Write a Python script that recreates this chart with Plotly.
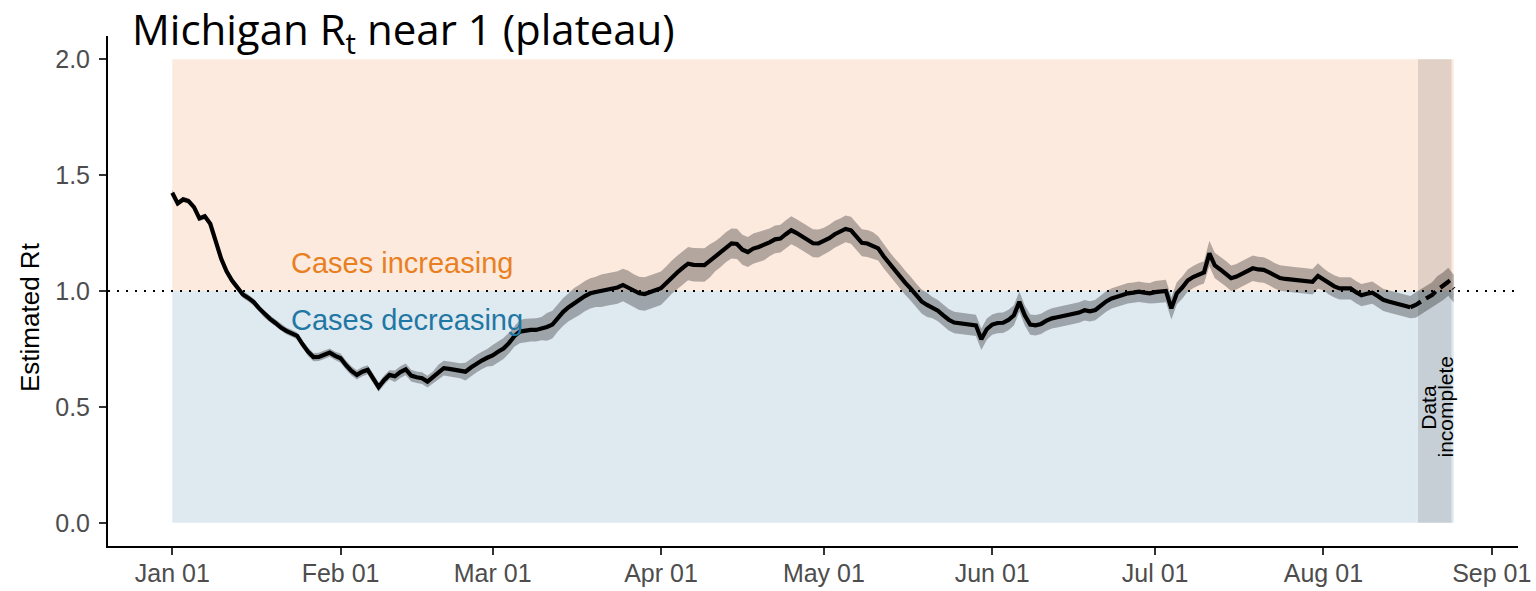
import pandas as pd
import plotly.graph_objects as go

# daily Rt estimate for Michigan, 2021-01-01 .. 2021-08-25
dates = pd.date_range("2021-01-01", "2021-08-25", freq="D")

rt = [
    # Jan
    1.424, 1.378, 1.395, 1.388, 1.362, 1.313, 1.322, 1.290, 1.215, 1.140,
    1.085, 1.045, 1.015, 0.985, 0.970, 0.952, 0.925, 0.900, 0.880, 0.862,
    0.842, 0.828, 0.818, 0.806, 0.770, 0.738, 0.715, 0.716, 0.725, 0.734,
    0.720,
    # Feb
    0.710, 0.680, 0.655, 0.638, 0.652, 0.660, 0.620, 0.585, 0.615, 0.638,
    0.632, 0.650, 0.662, 0.635, 0.628, 0.624, 0.609, 0.628, 0.650, 0.667,
    0.664, 0.660, 0.656, 0.652, 0.670, 0.686, 0.700, 0.712,
    # Mar
    0.722, 0.738, 0.752, 0.775, 0.805, 0.825, 0.830, 0.832, 0.832, 0.838,
    0.845, 0.855, 0.885, 0.910, 0.930, 0.948, 0.962, 0.978, 0.990, 0.996,
    1.001, 1.006, 1.011, 1.015, 1.026, 1.015, 1.000, 0.990, 0.987, 0.995,
    1.003,
    # Apr
    1.012, 1.035, 1.060, 1.080, 1.100, 1.118, 1.113, 1.112, 1.112, 1.130,
    1.150, 1.168, 1.190, 1.205, 1.203, 1.178, 1.168, 1.183, 1.190, 1.198,
    1.210, 1.223, 1.226, 1.245, 1.262, 1.250, 1.235, 1.220, 1.206, 1.205,
    # May
    1.215, 1.228, 1.245, 1.255, 1.268, 1.262, 1.235, 1.208, 1.205, 1.196,
    1.184, 1.150, 1.120, 1.090, 1.065, 1.035, 1.010, 0.980, 0.955, 0.940,
    0.928, 0.915, 0.895, 0.876, 0.864, 0.861, 0.861, 0.858, 0.852, 0.792,
    0.835,
    # Jun
    0.855, 0.862, 0.863, 0.875, 0.895, 0.954, 0.895, 0.855, 0.852, 0.858,
    0.872, 0.882, 0.887, 0.892, 0.897, 0.902, 0.907, 0.917, 0.912, 0.918,
    0.937, 0.955, 0.968, 0.976, 0.983, 0.990, 0.993, 0.997, 0.993, 0.990,
    # Jul
    0.995, 0.998, 1.000, 0.925, 0.990, 1.015, 1.045, 1.060, 1.072, 1.080,
    1.162, 1.110, 1.093, 1.075, 1.055, 1.062, 1.074, 1.085, 1.098, 1.093,
    1.091, 1.080, 1.066, 1.056, 1.052, 1.049, 1.047, 1.045, 1.043, 1.040,
    1.065,
    # Aug
    1.050, 1.033, 1.020, 1.011, 1.011, 1.011, 0.995, 0.982, 0.988, 0.993,
    0.978, 0.962, 0.955, 0.948, 0.944, 0.937, 0.930, 0.940, 0.955, 0.970,
    0.983, 1.005, 1.020, 1.040, 1.010,
]

# half width of the credible band, in thousandths
band = [
    12, 12, 12, 12, 12, 12, 12, 12, 12, 12, 15, 15, 15, 15, 15, 15,
    15, 15, 15, 15, 15, 15, 15, 15, 15, 18, 18, 18, 18, 18, 18,
    20, 20, 20, 20, 20, 20, 20, 20, 20, 20, 25, 25, 25, 25, 25, 25,
    25, 25, 32, 32, 32, 32, 32, 38, 38, 38, 38, 38,
    45, 45, 45, 45, 45, 50, 50, 50, 50, 50, 60, 60, 60, 60, 60, 65,
    65, 65, 65, 65, 70, 70, 70, 70, 70, 72, 72, 72, 72, 72, 72,
    72, 72, 72, 72, 72, 72, 72, 72, 72, 72, 65, 65, 65, 65, 65, 65,
    65, 65, 65, 65, 60, 60, 60, 60, 60, 60, 60, 60, 60, 60,
    58, 58, 58, 58, 58, 58, 58, 58, 58, 58, 52, 52, 52, 52, 52, 52,
    52, 52, 52, 52, 46, 46, 46, 46, 46, 46, 46, 46, 46, 46, 46,
    44, 44, 44, 44, 44, 44, 44, 44, 44, 44, 44, 44, 44, 44, 44, 44,
    44, 44, 44, 44, 44, 44, 44, 44, 44, 44, 44, 44, 44, 44,
    48, 48, 48, 48, 48, 48, 48, 48, 48, 48, 55, 55, 55, 55, 55, 55,
    55, 55, 55, 55, 55, 55, 55, 55, 55, 55, 55, 55, 55, 55, 55,
    48, 48, 48, 48, 48, 48, 48, 48, 48, 48, 48, 48, 48, 48, 48, 48,
    48, 55, 55, 55, 55, 60, 60, 60, 60,
]

incomplete_from = "2021-08-17"
incomplete_band = ["2021-08-18 10:00", "2021-08-24 14:00"]
bg_span = ["2021-01-01", "2021-08-25"]

lo = [r - b / 1000 for r, b in zip(rt, band)]
hi = [r + b / 1000 for r, b in zip(rt, band)]
cut = list(dates).index(pd.Timestamp(incomplete_from))

SANS = "Liberation Sans, Arial, sans-serif"

fig = go.Figure()

# ribbon
fig.add_trace(go.Scatter(x=dates, y=hi, mode="lines", line=dict(width=0),
                         hoverinfo="skip", showlegend=False))
fig.add_trace(go.Scatter(x=dates, y=lo, mode="lines", line=dict(width=0),
                         fill="tonexty", fillcolor="rgba(0,0,0,0.29)",
                         hoverinfo="skip", showlegend=False))
# solid part
fig.add_trace(go.Scatter(x=dates[:cut + 1], y=rt[:cut + 1], mode="lines",
                         line=dict(color="black", width=4.2), showlegend=False))
# incomplete part (dashed)
fig.add_trace(go.Scatter(x=dates[cut:], y=rt[cut:], mode="lines",
                         line=dict(color="black", width=4.2, dash="12px,6px"),
                         showlegend=False))

# shaded regions
fig.add_shape(type="rect", xref="x", yref="y", x0=bg_span[0], x1=bg_span[1],
              y0=1, y1=2, fillcolor="#FDEADF", line_width=0, layer="below")
fig.add_shape(type="rect", xref="x", yref="y", x0=bg_span[0], x1=bg_span[1],
              y0=0, y1=1, fillcolor="#DFE9F0", line_width=0, layer="below")
fig.add_shape(type="rect", xref="x", yref="y", x0=incomplete_band[0],
              x1=incomplete_band[1], y0=0, y1=2,
              fillcolor="rgba(0,0,0,0.11)", line_width=0, layer="below")
fig.add_shape(type="line", xref="paper", yref="y", x0=0, x1=1, y0=1, y1=1,
              line=dict(color="black", width=2, dash="2px,7px"))

fig.add_annotation(text="Cases increasing", x="2021-01-22 12:00", y=1.12,
                   xanchor="left", showarrow=False,
                   font=dict(family=SANS, size=29, color="#E9801F"))
fig.add_annotation(text="Cases decreasing", x="2021-01-22 12:00", y=0.875,
                   xanchor="left", showarrow=False,
                   font=dict(family=SANS, size=29, color="#1F77A4"))
fig.add_annotation(text="Data", x="2021-08-20 10:00", y=0.5, textangle=-90,
                   showarrow=False,
                   font=dict(family=SANS, size=21, color="black"))
fig.add_annotation(text="incomplete", x="2021-08-23 12:00", y=0.5, textangle=-90,
                   showarrow=False,
                   font=dict(family=SANS, size=21, color="black"))

# title and y title
fig.add_annotation(text="Michigan R<sub>t</sub> near 1 (plateau)",
                   xref="paper", yref="paper", x=0.0156, y=1.008,
                   xanchor="left", yanchor="middle", showarrow=False,
                   font=dict(family="Open Sans", size=42, color="black"))
fig.add_annotation(text="Estimated Rt", xref="paper", yref="paper",
                   x=-0.0674, y=0.449, textangle=-90, showarrow=False,
                   font=dict(family=SANS, size=26, color="black"))

fig.update_layout(
    width=1536, height=591,
    margin=dict(l=108, r=18, t=36, b=45, autoexpand=False),
    plot_bgcolor="white", paper_bgcolor="white",
    xaxis=dict(range=["2020-12-20 04:00", "2021-09-05 20:00"],
               tickvals=pd.date_range("2021-01-01", "2021-09-01", freq="MS"),
               tickformat="%b %d", showgrid=False, zeroline=False,
               showline=True, linecolor="black", linewidth=2, automargin=False,
               ticks="outside", ticklen=7, tickwidth=2, tickcolor="#333333",
               ticklabelstandoff=-3,
               tickfont=dict(family=SANS, size=25, color="#4D4D4D")),
    yaxis=dict(range=[-0.1, 2.1], tickvals=[0, 0.5, 1, 1.5, 2],
               tickformat=".1f", showgrid=False, zeroline=False,
               showline=True, linecolor="black", linewidth=2, automargin=False,
               ticks="outside", ticklen=7, tickwidth=2, tickcolor="#333333",
               ticklabelstandoff=4,
               tickfont=dict(family=SANS, size=25, color="#4D4D4D")),
)

# drop the default page margin so the figure sits at the window origin
fig.write_html("out.html", config={"displayModeBar": False},
               post_script="document.body.style.margin = '0px';")
